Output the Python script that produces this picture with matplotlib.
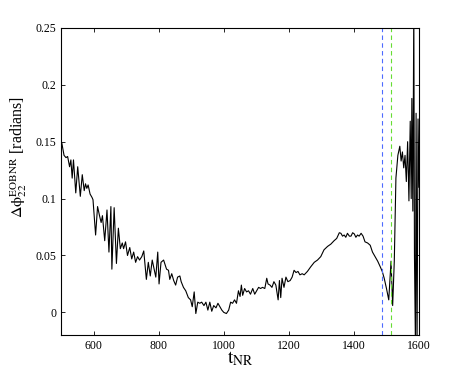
import numpy as np
import matplotlib.pyplot as plt

# plotting format standards
plt.rcParams['font.family'] = 'serif'
plt.rcParams['font.serif'] = ['Liberation Serif', 'DejaVu Serif']
plt.rcParams['mathtext.fontset'] = 'stix'
plt.rcParams['axes.linewidth'] = 0.8
plt.rcParams['xtick.labelsize'] = 8.5
plt.rcParams['ytick.labelsize'] = 8.5

# phase difference
t_nr = [500, 502, 509, 515, 520, 526, 530, 534, 538, 545, 551, 559, 565, 571, 575,
        579, 583, 589, 595, 598, 606, 612, 618, 623, 627, 634, 641, 647, 653, 656,
        663, 670, 676, 682, 688, 692, 698, 704, 711, 717, 723, 729, 735, 741, 748,
        754, 762, 768, 774, 780, 791, 797, 801, 807, 815, 824, 830, 834, 840, 846,
        852, 858, 865,
        869, 876, 883, 891, 898, 903, 909, 914, 920, 926, 932, 939, 945, 951, 957,
        963, 969, 976, 982, 988, 994, 1000, 1008, 1015, 1021, 1027, 1033, 1039,
        1045, 1050, 1054, 1058, 1064, 1070, 1076, 1082, 1089, 1095, 1101, 1107,
        1113, 1119, 1126, 1132, 1136, 1142, 1148, 1154, 1160, 1167, 1171, 1175,
        1179, 1185, 1191, 1197, 1204, 1210, 1216, 1222, 1228, 1234,
        1241, 1247, 1257, 1267, 1278, 1288, 1298, 1308, 1319, 1329, 1339, 1347, 1355,
        1360, 1365, 1370, 1375, 1380, 1386, 1391, 1396, 1401, 1406, 1411, 1416,
        1422, 1428, 1434, 1442, 1450, 1457, 1465, 1473, 1481, 1487, 1493, 1500,
        1507, 1514, 1519, 1524, 1529, 1535, 1541, 1545, 1549, 1553, 1557, 1561,
        1565, 1569, 1573, 1576, 1578, 1581,
        1584, 1586, 1589, 1591, 1594, 1597, 1600]
dphi = [0.150, 0.149, 0.138, 0.136, 0.137, 0.128, 0.134, 0.118, 0.134, 0.105, 0.128,
        0.102, 0.121, 0.107, 0.113, 0.109, 0.112, 0.104, 0.101, 0.099, 0.068, 0.093,
        0.085, 0.079, 0.085, 0.063, 0.090, 0.053, 0.093, 0.038, 0.092, 0.043, 0.074,
        0.056, 0.061, 0.056, 0.062, 0.050, 0.057, 0.047, 0.053, 0.044, 0.049, 0.046,
        0.049, 0.054, 0.029, 0.044, 0.032, 0.046, 0.031, 0.053, 0.025, 0.044, 0.046,
        0.038, 0.037, 0.029, 0.034, 0.028, 0.024, 0.031, 0.032,
        0.027, 0.022, 0.019, 0.013, 0.011, 0.005, 0.018, -0.001, 0.009, 0.008, 0.009,
        0.006, 0.009, 0.002, 0.009, 0.001, 0.006, 0.004, 0.008, 0.005, 0.002, 0.000,
        -0.001, 0.002, 0.009, 0.008, 0.011, 0.008, 0.019, 0.014, 0.024, 0.015, 0.021,
        0.018, 0.019, 0.016, 0.021, 0.016, 0.019, 0.022, 0.021, 0.022, 0.021, 0.030,
        0.025, 0.024, 0.022, 0.027, 0.024, 0.011, 0.028, 0.013, 0.030, 0.022, 0.031,
        0.027, 0.028, 0.031, 0.037, 0.035, 0.036, 0.033,
        0.034, 0.033, 0.036, 0.040, 0.044, 0.046, 0.049, 0.055, 0.058, 0.060, 0.063,
        0.065, 0.070,
        0.0695, 0.067, 0.068, 0.066, 0.0695, 0.067, 0.067, 0.070, 0.069, 0.066, 0.068,
        0.067, 0.0695, 0.067, 0.062, 0.061, 0.059, 0.053, 0.049, 0.045, 0.040, 0.036,
        0.030, 0.021, 0.011, 0.045, 0.006, 0.045, 0.118, 0.138, 0.146, 0.133, 0.141,
        0.127, 0.138, 0.115, 0.150, 0.098, 0.168, 0.100, 0.188, 0.089,
        0.27, 0.05, -0.03, 0.175, -0.03, 0.17, 0.11]

# dashed markers
t_blue = 1485
t_green = 1513

xticks = [600, 800, 1000, 1200, 1400, 1600]
yticks = [0, 0.05, 0.1, 0.15, 0.2, 0.25]
yticklabels = ['0', '0.05', '0.1', '0.15', '0.2', '0.25']

fig = plt.figure(figsize=(4.63, 3.77), dpi=100)
ax = fig.add_axes([0.132, 0.111, 0.773, 0.815])

ax.plot(t_nr, dphi, color='black', linewidth=0.8)
ax.axvline(t_blue, color='#4d6bff', linestyle=(0, (4, 3)), linewidth=0.8)
ax.axvline(t_green, color='#66dd33', linestyle=(0, (4, 3)), linewidth=0.8)

ax.set_xlim(500, 1600)
ax.set_ylim(-0.02, 0.25)
ax.set_xticks(xticks)
ax.set_yticks(yticks)
ax.set_yticklabels(yticklabels)
ax.tick_params(which='both', bottom=True, top=True, left=True, right=True,
               direction='in', length=3, width=0.6)

ax.set_xlabel(r'$\mathrm{t}_{\rm NR}$', fontsize=14, labelpad=-2)
ax.set_ylabel(r'$\Delta\mathrm{\phi}_{22}^{\rm EOBNR}$ [radians]', fontsize=11.5)
ax.yaxis.set_label_coords(-0.09, 0.58)

plt.savefig('out.png', dpi=100)
